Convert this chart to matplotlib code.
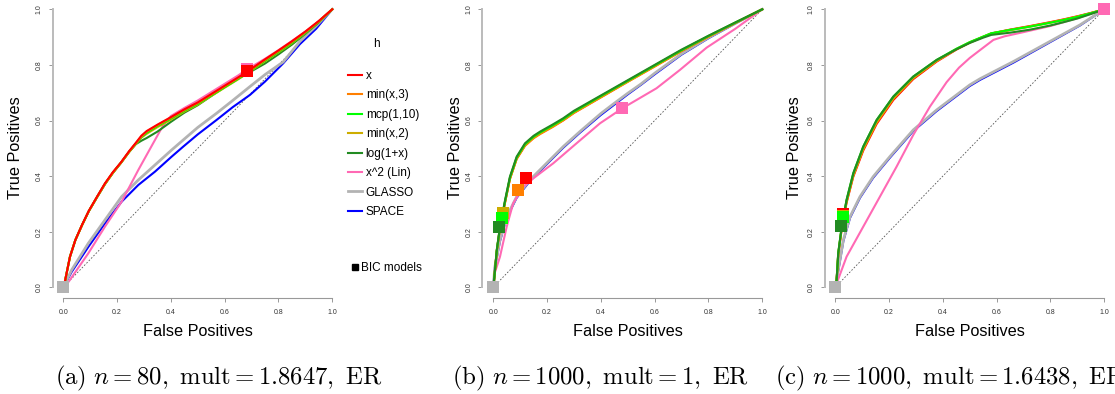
import numpy as np
import matplotlib
matplotlib.use('Agg')
import matplotlib.pyplot as plt
from matplotlib.lines import Line2D

plt.rcParams['font.family'] = ['Liberation Sans', 'DejaVu Sans']
plt.rcParams['mathtext.fontset'] = 'cm'

# penalty functions / methods shown in the legend
methods = ['x', 'min(x,3)', 'mcp(1,10)', 'min(x,2)', 'log(1+x)', 'x^2 (Lin)', 'GLASSO', 'SPACE']
colors = ['#FF0000', '#FF7F00', '#00FF00', '#CDAD00', '#228B22', '#FF69B4', '#B3B3B3', '#0000FF']

# ---- panel (a): n = 80 ----
fpr_a = [0, 0.006, 0.025, 0.045, 0.07, 0.095, 0.125, 0.155, 0.185, 0.215, 0.245, 0.27, 0.29, 0.31,
         0.35, 0.4, 0.45, 0.5, 0.55, 0.6, 0.65, 0.69, 0.75, 0.8, 0.85, 0.9, 0.95, 1.0]
tpr_a_x = [0, 0.02, 0.11, 0.17, 0.225, 0.275, 0.325, 0.374, 0.415, 0.45, 0.49, 0.52, 0.545, 0.562,
           0.585, 0.612, 0.64, 0.665, 0.695, 0.725, 0.755, 0.78, 0.82, 0.852, 0.885, 0.92, 0.958, 1.0]
tpr_a_min3 = [0, 0.02, 0.11, 0.17, 0.224, 0.274, 0.324, 0.372, 0.413, 0.449, 0.488, 0.518, 0.542, 0.56,
              0.583, 0.61, 0.638, 0.663, 0.693, 0.723, 0.753, 0.778, 0.818, 0.85, 0.883, 0.918, 0.957, 1.0]
tpr_a_mcp = [0, 0.02, 0.11, 0.17, 0.224, 0.274, 0.324, 0.372, 0.413, 0.449, 0.488, 0.517, 0.54, 0.556,
             0.58, 0.607, 0.635, 0.66, 0.69, 0.72, 0.75, 0.776, 0.815, 0.847, 0.88, 0.916, 0.956, 1.0]
tpr_a_min2 = [0, 0.02, 0.11, 0.17, 0.224, 0.274, 0.323, 0.371, 0.412, 0.448, 0.487, 0.516, 0.538, 0.552,
              0.576, 0.603, 0.632, 0.657, 0.688, 0.718, 0.748, 0.774, 0.813, 0.845, 0.878, 0.915, 0.955, 1.0]
tpr_a_log = [0, 0.02, 0.11, 0.17, 0.224, 0.274, 0.323, 0.371, 0.412, 0.448, 0.487, 0.515, 0.527, 0.537,
             0.56, 0.595, 0.628, 0.655, 0.688, 0.72, 0.75, 0.772, 0.805, 0.838, 0.873, 0.912, 0.953, 1.0]
fpr_a_lin = [0, 0.02, 0.093, 0.155, 0.217, 0.279, 0.341, 0.37, 0.4, 0.45, 0.5, 0.55, 0.6, 0.65, 0.685,
             0.75, 0.8, 0.85, 0.9, 0.95, 1.0]
tpr_a_lin = [0, 0.02, 0.122, 0.218, 0.308, 0.422, 0.53, 0.58, 0.616, 0.645, 0.672, 0.702, 0.732, 0.762,
             0.785, 0.822, 0.853, 0.886, 0.92, 0.958, 1.0]
fpr_a_glasso = [0, 0.031, 0.093, 0.155, 0.217, 0.279, 0.341, 0.403, 0.446, 0.5, 0.57, 0.63, 0.694, 0.75,
                0.818, 0.88, 0.94, 1.0]
tpr_a_glasso = [0, 0.062, 0.158, 0.242, 0.326, 0.386, 0.44, 0.494, 0.53, 0.575, 0.626, 0.672, 0.722,
                0.765, 0.811, 0.885, 0.94, 1.0]
fpr_a_space = [0, 0.031, 0.093, 0.155, 0.217, 0.279, 0.341, 0.403, 0.446, 0.5, 0.57, 0.63, 0.694, 0.75,
               0.818, 0.88, 0.94, 0.97, 1.0]
tpr_a_space = [0, 0.055, 0.145, 0.23, 0.308, 0.368, 0.416, 0.47, 0.506, 0.55, 0.602, 0.648, 0.692, 0.74,
               0.806, 0.875, 0.93, 0.965, 1.0]
# BIC-selected models (method index, fpr, tpr)
bic_a = [(6, 0.0, 0.0), (5, 0.684, 0.786), (0, 0.684, 0.778)]

# ---- panel (b): n = 1000, mult = 1 ----
fpr_b = [0, 0.003, 0.013, 0.025, 0.044, 0.062, 0.087, 0.118, 0.15, 0.174, 0.22, 0.26, 0.3, 0.4, 0.5,
         0.6, 0.7, 0.8, 0.9, 1.0]
tpr_b_x = [0, 0.024, 0.13, 0.212, 0.306, 0.39, 0.462, 0.51, 0.538, 0.553, 0.578, 0.601, 0.628, 0.684,
           0.74, 0.795, 0.85, 0.902, 0.951, 1.0]
tpr_b_min3 = [0, 0.024, 0.13, 0.213, 0.307, 0.39, 0.462, 0.509, 0.536, 0.551, 0.576, 0.6, 0.627, 0.683,
              0.739, 0.794, 0.85, 0.901, 0.951, 1.0]
tpr_b_mcp = [0, 0.025, 0.132, 0.216, 0.311, 0.395, 0.467, 0.515, 0.542, 0.557, 0.582, 0.605, 0.632, 0.688,
             0.743, 0.798, 0.853, 0.904, 0.952, 1.0]
tpr_b_min2 = [0, 0.025, 0.131, 0.214, 0.308, 0.392, 0.464, 0.512, 0.54, 0.555, 0.58, 0.603, 0.63, 0.686,
              0.741, 0.797, 0.852, 0.903, 0.952, 1.0]
tpr_b_log = [0, 0.026, 0.134, 0.218, 0.314, 0.398, 0.47, 0.518, 0.545, 0.56, 0.585, 0.608, 0.635, 0.69,
             0.745, 0.8, 0.855, 0.905, 0.953, 1.0]
fpr_b_lin = [0, 0.005, 0.025, 0.05, 0.074, 0.112, 0.149, 0.223, 0.3, 0.397, 0.48, 0.607, 0.694, 0.793,
             0.9, 1.0]
tpr_b_lin = [0, 0.05, 0.11, 0.218, 0.302, 0.362, 0.392, 0.446, 0.51, 0.59, 0.644, 0.716, 0.782, 0.862,
             0.93, 1.0]
fpr_b_glasso = [0, 0.006, 0.025, 0.05, 0.087, 0.136, 0.198, 0.26, 0.322, 0.4, 0.45, 0.5, 0.55, 0.6, 0.7,
                0.8, 0.9, 1.0]
tpr_b_glasso = [0, 0.074, 0.17, 0.254, 0.326, 0.386, 0.446, 0.506, 0.56, 0.625, 0.662, 0.698, 0.732,
                0.77, 0.84, 0.898, 0.95, 1.0]
tpr_b_space = [0, 0.07, 0.166, 0.25, 0.322, 0.382, 0.442, 0.502, 0.556, 0.62, 0.657, 0.694, 0.729,
               0.766, 0.837, 0.896, 0.949, 1.0]
bic_b = [(6, 0.0, 0.0), (5, 0.48, 0.644), (0, 0.12, 0.393), (1, 0.093, 0.35),
         (3, 0.035, 0.266), (2, 0.031, 0.25), (4, 0.022, 0.216)]

# ---- panel (c): n = 1000, mult = 1.6438 ----
fpr_c = [0, 0.005, 0.011, 0.024, 0.042, 0.067, 0.104, 0.154, 0.216, 0.29, 0.377, 0.45, 0.5, 0.55, 0.58,
         0.65, 0.725, 0.8, 0.85, 0.9, 0.95, 1.0]
tpr_c_x = [0, 0.024, 0.116, 0.21, 0.304, 0.398, 0.492, 0.588, 0.674, 0.749, 0.812, 0.855, 0.88, 0.901,
           0.913, 0.927, 0.94, 0.954, 0.964, 0.975, 0.987, 1.0]
tpr_c_min3 = [0, 0.025, 0.118, 0.212, 0.307, 0.401, 0.496, 0.592, 0.678, 0.752, 0.814, 0.856, 0.881,
              0.901, 0.913, 0.926, 0.939, 0.953, 0.963, 0.974, 0.986, 1.0]
tpr_c_mcp = [0, 0.026, 0.122, 0.218, 0.314, 0.41, 0.506, 0.602, 0.686, 0.758, 0.818, 0.858, 0.882, 0.902,
             0.914, 0.926, 0.938, 0.952, 0.962, 0.973, 0.986, 1.0]
tpr_c_min2 = [0, 0.025, 0.12, 0.215, 0.31, 0.405, 0.5, 0.596, 0.681, 0.754, 0.815, 0.857, 0.881, 0.901,
              0.913, 0.925, 0.938, 0.952, 0.962, 0.973, 0.986, 1.0]
tpr_c_log = [0, 0.026, 0.122, 0.218, 0.314, 0.41, 0.506, 0.602, 0.686, 0.758, 0.818, 0.856, 0.879, 0.898,
             0.908, 0.916, 0.927, 0.942, 0.954, 0.967, 0.983, 1.0]
fpr_c_lin = [0, 0.042, 0.104, 0.166, 0.228, 0.29, 0.352, 0.414, 0.46, 0.5, 0.55, 0.588, 0.63, 0.7, 0.8,
             0.9, 1.0]
tpr_c_lin = [0, 0.11, 0.218, 0.326, 0.434, 0.548, 0.65, 0.738, 0.79, 0.825, 0.862, 0.89, 0.903, 0.918,
             0.94, 0.968, 1.0]
fpr_c_glasso = [0, 0.011, 0.03, 0.055, 0.092, 0.141, 0.203, 0.29, 0.377, 0.5, 0.538, 0.662, 0.786, 0.91, 1.0]
tpr_c_glasso = [0, 0.062, 0.17, 0.254, 0.326, 0.398, 0.47, 0.566, 0.638, 0.728, 0.75, 0.812, 0.878, 0.944, 1.0]
tpr_c_space = [0, 0.058, 0.166, 0.25, 0.322, 0.394, 0.466, 0.562, 0.634, 0.724, 0.746, 0.808, 0.875, 0.942, 1.0]
bic_c = [(6, 0.0, 0.0), (5, 1.0, 1.0), (0, 0.03, 0.263), (1, 0.03, 0.258), (3, 0.03, 0.256),
         (2, 0.03, 0.252), (4, 0.021, 0.22)]

captions = [r'$\mathrm{(a)}\ n = 80,\ \mathrm{mult} = 1.8647,\ \mathrm{ER}$',
            r'$\mathrm{(b)}\ n = 1000,\ \mathrm{mult} = 1,\ \mathrm{ER}$',
            r'$\mathrm{(c)}\ n = 1000,\ \mathrm{mult} = 1.6438,\ \mathrm{ER}$']

# curves per panel: (method index, fpr, tpr), in drawing order
panels = [
    [(7, fpr_a_space, tpr_a_space), (6, fpr_a_glasso, tpr_a_glasso), (5, fpr_a_lin, tpr_a_lin),
     (4, fpr_a, tpr_a_log), (3, fpr_a, tpr_a_min2), (2, fpr_a, tpr_a_mcp), (1, fpr_a, tpr_a_min3),
     (0, fpr_a, tpr_a_x)],
    [(7, fpr_b_glasso, tpr_b_space), (6, fpr_b_glasso, tpr_b_glasso), (5, fpr_b_lin, tpr_b_lin),
     (0, fpr_b, tpr_b_x), (1, fpr_b, tpr_b_min3), (3, fpr_b, tpr_b_min2), (2, fpr_b, tpr_b_mcp),
     (4, fpr_b, tpr_b_log)],
    [(7, fpr_c_glasso, tpr_c_space), (6, fpr_c_glasso, tpr_c_glasso), (5, fpr_c_lin, tpr_c_lin),
     (0, fpr_c, tpr_c_x), (1, fpr_c, tpr_c_min3), (3, fpr_c, tpr_c_min2), (2, fpr_c, tpr_c_mcp),
     (4, fpr_c, tpr_c_log)],
]
bics = [bic_a, bic_b, bic_c]

W, H = 1115, 394
fig = plt.figure(figsize=(W / 100, H / 100), dpi=100)

# pixel layout of each panel (left edge of plot region)
lefts = [52.5, 482.5, 824.5]
zero_x = [63.3, 493.3, 835.3]
caption_x = [55, 452, 775]
ylab_x = [16, 455, 795]
ticks = [0, 0.2, 0.4, 0.6, 0.8, 1.0]
ticklabels = ['0.0', '0.2', '0.4', '0.6', '0.8', '1.0']

line_handles = {}
for p in range(3):
    ax = fig.add_axes([lefts[p] / W, (H - 298.4) / H, 290.5 / W, 300.2 / H])
    ax.set_xlim(-0.04, 1.04)
    ax.set_ylim(-0.04, 1.04)
    ax.plot([0, 1], [0, 1], color='#555555', lw=0.6, dashes=(2, 2))
    for k, fx, ty in panels[p]:
        lw = 2.0 if k == 6 else 1.5
        ln, = ax.plot(fx, ty, color=colors[k], lw=lw, solid_joinstyle='round')
        if p == 0:
            line_handles[k] = ln
    for k, bx, by in bics[p]:
        ax.plot([bx], [by], marker='s', ms=8.5, mew=0, color=colors[k], ls='none',
                clip_on=False, zorder=5)

    for s in ['top', 'right']:
        ax.spines[s].set_visible(False)
    ax.spines['left'].set_bounds(0, 1)
    ax.spines['bottom'].set_bounds(0, 1)
    ax.spines['left'].set_color('#BBBBBB')
    ax.spines['left'].set_linewidth(1.4)
    ax.spines['bottom'].set_color('#999999')
    ax.spines['bottom'].set_linewidth(0.8)
    ax.set_xticks(ticks)
    ax.set_xticklabels(ticklabels)
    ax.set_yticks(ticks)
    ax.set_yticklabels(ticklabels, rotation=90, va='center')
    ax.tick_params(axis='both', length=3, width=0.6, color='#888888', labelsize=5,
                   labelcolor='#333333')
    ax.tick_params(axis='x', pad=4.5)
    ax.tick_params(axis='y', pad=4)

    cx = zero_x[p] + 134.5
    fig.text(cx / W, 1 - 331 / H, 'False Positives', fontsize=11.7, ha='center', va='center')
    fig.text(ylab_x[p] / W, 1 - 148 / H, 'True Positives', fontsize=11.7, ha='center',
             va='center', rotation=90)
    # caption (c) runs past the right edge, as in the original figure
    fig.text(caption_x[p] / W, 1 - 384 / H, captions[p], fontsize=17.8, ha='left',
             va='baseline')

# legend to the right of panel (a)
fig.text(376 / W, 1 - 44 / H, 'h', fontsize=8.5, ha='center', va='center')
fig.legend([line_handles[k] for k in range(8)], methods, loc='upper left',
           bbox_to_anchor=(348 / W, 1 - 70 / H), frameon=False, fontsize=8.5,
           handlelength=1.15, handletextpad=0.35, labelspacing=0.63, borderpad=0,
           borderaxespad=0)
bic_handle = Line2D([], [], marker='s', ms=4, color='black', ls='none')
fig.legend([bic_handle], ['BIC models'], loc='upper left',
           bbox_to_anchor=(351.5 / W, 1 - 262.2 / H), frameon=False, fontsize=8.5,
           handlelength=0.6, handletextpad=0.2, borderpad=0, borderaxespad=0)

fig.savefig('out.png', dpi=100)
